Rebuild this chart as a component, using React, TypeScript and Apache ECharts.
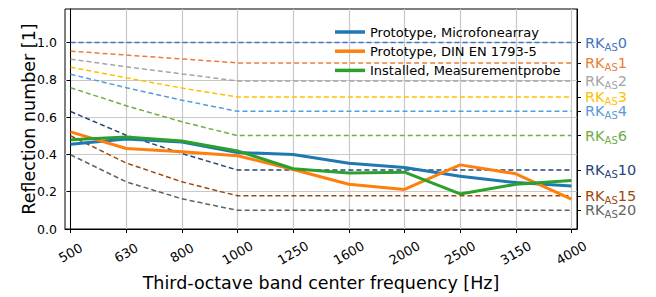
import React, { useEffect, useRef } from "react";
import * as echarts from "echarts";

const freqs = ["500", "630", "800", "1000", "1250", "1600", "2000", "2500", "3150", "4000"];
const microfonearray = [0.454, 0.483, 0.467, 0.41, 0.4, 0.353, 0.33, 0.283, 0.249, 0.23];
const dinEn = [0.521, 0.432, 0.414, 0.393, 0.319, 0.24, 0.212, 0.344, 0.296, 0.16];
const measurementprobe = [0.479, 0.493, 0.472, 0.419, 0.323, 0.3, 0.305, 0.188, 0.24, 0.26];

const rk0 = [1.0, 1.0, 1.0, 1.0, 1.0, 1.0, 1.0, 1.0, 1.0, 1.0];
const rk1 = [0.954, 0.933, 0.912, 0.891, 0.891, 0.891, 0.891, 0.891, 0.891, 0.891];
const rk2 = [0.911, 0.87, 0.832, 0.794, 0.794, 0.794, 0.794, 0.794, 0.794, 0.794];
const rk3 = [0.868, 0.811, 0.756, 0.708, 0.708, 0.708, 0.708, 0.708, 0.708, 0.708];
const rk4 = [0.83, 0.758, 0.691, 0.631, 0.631, 0.631, 0.631, 0.631, 0.631, 0.631];
const rk6 = [0.758, 0.661, 0.575, 0.501, 0.501, 0.501, 0.501, 0.501, 0.501, 0.501];
const rk10 = [0.63, 0.503, 0.405, 0.316, 0.316, 0.316, 0.316, 0.316, 0.316, 0.316];
const rk15 = [0.5, 0.354, 0.253, 0.178, 0.178, 0.178, 0.178, 0.178, 0.178, 0.178];
const rk20 = [0.398, 0.253, 0.162, 0.1, 0.1, 0.1, 0.1, 0.1, 0.1, 0.1];

const rkNames = ["0", "1", "2", "3", "4", "6", "10", "15", "20"];
const rkCurves = [rk0, rk1, rk2, rk3, rk4, rk6, rk10, rk15, rk20];
const rkLevels = [1.0, 0.891, 0.794, 0.708, 0.631, 0.501, 0.316, 0.178, 0.1];
const rkColors = ["#4472c4", "#ed7d31", "#a5a5a5", "#ffc000", "#5b9bd5", "#70ad47", "#264478", "#9e480e", "#636363"];

const yTicks = [0, 0.2, 0.4, 0.6, 0.8, 1.0];
const xIdx = freqs.map((_, i) => i);

const FONT = "DejaVu Sans";
const Y_MAX = 1.18;

export default function App() {
  const ref = useRef<HTMLDivElement>(null);
  useEffect(() => {
    const chart = echarts.init(ref.current!, null, { renderer: "svg" });
    const rich: any = {};
    rkColors.forEach((c, i) => {
      rich["m" + i] = { fontSize: 14.5, color: c, fontFamily: FONT, lineHeight: 15 };
      rich["s" + i] = { fontSize: 10, color: c, fontFamily: FONT, verticalAlign: "bottom", lineHeight: 15, padding: [0, 0, -2, 0] };
    });
    const toPairs = (arr: number[]) => arr.map((v, i) => [i, v]);
    const rkSeries = rkCurves.map((c, i) => ({
      name: "RK" + rkNames[i],
      type: "line",
      data: toPairs(c),
      symbol: "none",
      yAxisIndex: 0,
      z: 2,
      lineStyle: { color: rkColors[i], width: 1.5, type: [5, 3] },
      silent: true,
    }));
    const mainColors = ["#1f77b4", "#ff7f0e", "#2ca02c"];
    const mainNames = ["Prototype, Microfonearray", "Prototype, DIN EN 1793-5", "Installed, Measurementprobe"];
    const mainData = [microfonearray, dinEn, measurementprobe];
    const mainSeries = mainData.map((d, i) => ({
      name: mainNames[i],
      type: "line",
      data: toPairs(d),
      symbol: "none",
      z: 5,
      color: mainColors[i],
      lineStyle: { color: mainColors[i], width: 3 },
    }));
    const sortedLevels = [...rkLevels].sort((a, b) => a - b);
    const rightLabelValues = [0, ...sortedLevels, Y_MAX];
    chart.setOption({
      animation: false,
      textStyle: { fontFamily: FONT },
      grid: { left: 65, right: 79, top: 9, bottom: 64, show: true, borderColor: "#000", borderWidth: 1, backgroundColor: "transparent" },
      legend: {
        data: mainNames,
        orient: "vertical",
        left: 330,
        top: 20,
        icon: "rect",
        itemWidth: 30,
        itemHeight: 3.5,
        itemGap: 5.2,
        itemTextGap: 9,
        textStyle: { fontSize: 13, lineHeight: 14, color: "#000", fontFamily: FONT },
      },
      xAxis: {
        type: "value",
        min: -0.1,
        max: 9.1,
        name: "Third-octave band center frequency [Hz]",
        nameLocation: "middle",
        nameGap: 45,
        nameMoveOverlap: false,
        nameTextStyle: { fontSize: 17.5, color: "#000", fontFamily: FONT },
        axisLine: { show: true, onZero: false, lineStyle: { color: "#000", width: 1 } },
        axisTick: { show: true, length: 4, customValues: xIdx, lineStyle: { color: "#000" } },
        axisLabel: {
          customValues: xIdx,
          rotate: 30,
          align: "center",
          verticalAlign: "middle",
          fontSize: 13,
          color: "#000",
          margin: 24,
          fontFamily: FONT,
          formatter: (v: number) => freqs[Math.round(v)] ?? "",
        },
        splitLine: { show: true, lineStyle: { color: "#c8c8c8", width: 1.2 } },
      },
      yAxis: [
        {
          type: "value",
          min: 0,
          max: Y_MAX,
          name: "Reflection number [1]",
          nameLocation: "middle",
          nameGap: 27,
          nameMoveOverlap: false,
          nameTextStyle: { fontSize: 17.5, color: "#000", fontFamily: FONT },
          axisLine: { show: true, lineStyle: { color: "#000", width: 1 } },
          axisTick: { show: true, length: 4, customValues: yTicks, lineStyle: { color: "#000" } },
          axisLabel: {
            customValues: yTicks,
            fontSize: 12.5,
            color: "#000",
            margin: 8,
            fontFamily: FONT,
            formatter: (v: number) => v.toFixed(1),
          },
          splitLine: { show: true, lineStyle: { color: "#c8c8c8", width: 1.2 } },
        },
        {
          type: "value",
          min: 0,
          max: Y_MAX,
          position: "right",
          axisLine: { show: true, lineStyle: { color: "#000", width: 1 } },
          axisTick: { show: true, length: 4, customValues: sortedLevels, lineStyle: { color: "#000" } },
          axisLabel: {
            customValues: rightLabelValues,
            hideOverlap: false,
            margin: 8,
            rich,
            formatter: (v: number) => {
              if (v < 0.05 || v > 1.1) return "";
              let best = 0;
              rkLevels.forEach((l, i) => {
                if (Math.abs(l - v) < Math.abs(rkLevels[best] - v)) best = i;
              });
              return `{m${best}|RK}{s${best}|AS}{m${best}|${rkNames[best]}}`;
            },
          },
          splitLine: { show: false },
        },
      ],
      series: [...rkSeries, ...mainSeries],
    });
    return () => chart.dispose();
  }, []);
  return <div ref={ref} style={{ position: "absolute", left: 0, top: 0, width: 656, height: 297 }} />;
}
